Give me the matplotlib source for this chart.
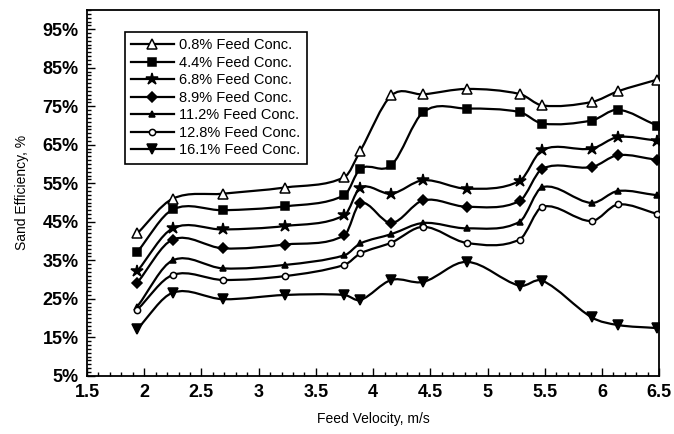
import matplotlib.pyplot as plt
from matplotlib.path import Path
from matplotlib.patches import PathPatch
from matplotlib.lines import Line2D
from matplotlib.ticker import MultipleLocator, FixedLocator, FuncFormatter

plt.rcParams['font.family'] = ['Liberation Sans', 'DejaVu Sans']

# Feed velocity (m/s) at which each efficiency was measured
velocity = [1.94, 2.25, 2.69, 3.23, 3.75, 3.89, 4.16, 4.44, 4.82, 5.28, 5.48, 5.91, 6.14, 6.48]

# Sand efficiency (%) for each feed concentration
conc_0_8 = [42.0, 51.0, 52.3, 53.9, 56.6, 63.5, 77.8, 78.1, 79.5, 78.2, 75.2, 76.1, 78.9, 81.9]
conc_4_4 = [37.2, 48.2, 48.0, 49.0, 51.9, 58.8, 59.7, 73.5, 74.4, 73.5, 70.5, 71.3, 74.1, 70.0]
conc_6_8 = [32.2, 43.3, 43.0, 43.9, 46.7, 53.9, 52.3, 55.8, 53.6, 55.6, 63.7, 64.0, 67.0, 66.1]
conc_8_9 = [29.2, 40.4, 38.1, 39.1, 41.5, 49.9, 44.7, 50.6, 48.9, 50.4, 58.8, 59.2, 62.3, 61.1]
conc_11_2 = [23.0, 35.0, 32.9, 33.8, 36.3, 39.4, 41.8, 44.7, 43.3, 45.0, 54.0, 49.9, 53.0, 51.9]
conc_12_8 = [22.2, 31.2, 29.9, 30.9, 33.8, 36.8, 39.6, 43.7, 39.5, 40.4, 48.9, 45.2, 49.5, 47.1]
conc_16_1 = [17.2, 26.6, 24.9, 26.0, 26.0, 24.7, 29.9, 29.4, 34.6, 28.4, 29.7, 20.2, 18.2, 17.4]

labels = ["0.8% Feed Conc.", "4.4% Feed Conc.", "6.8% Feed Conc.", "8.9% Feed Conc.",
          "11.2% Feed Conc.", "12.8% Feed Conc.", "16.1% Feed Conc."]
series = [conc_0_8, conc_4_4, conc_6_8, conc_8_9, conc_11_2, conc_12_8, conc_16_1]

# marker, size, face colour
styles = [("^", 7, "white"), ("s", 5.5, "black"), ("*", 9, "black"), ("D", 5, "black"),
          ("^", 4.5, "black"), ("o", 4.5, "white"), ("v", 7.5, "black")]


def smooth_path(xs, ys):
    # cubic Hermite through the points, written as Bezier segments
    n = len(xs)
    slopes = []
    for i in range(n):
        a = max(i - 1, 0)
        b = min(i + 1, n - 1)
        slopes.append((ys[b] - ys[a]) / (xs[b] - xs[a]))
    verts = [(xs[0], ys[0])]
    codes = [Path.MOVETO]
    for i in range(n - 1):
        h = (xs[i + 1] - xs[i]) / 3.0
        verts += [(xs[i] + h, ys[i] + slopes[i] * h),
                  (xs[i + 1] - h, ys[i + 1] - slopes[i + 1] * h),
                  (xs[i + 1], ys[i + 1])]
        codes += [Path.CURVE4] * 3
    return Path(verts, codes)


fig = plt.figure(figsize=(6.74, 4.34), dpi=100)
ax = fig.add_axes([0.129, 0.134, 0.849, 0.843])

handles = []
for vals, (mk, ms, fc), lab in zip(series, styles, labels):
    ax.add_patch(PathPatch(smooth_path(velocity, vals), facecolor="none",
                           edgecolor="black", lw=1.6, zorder=2))
    ax.plot(velocity, vals, linestyle="none", marker=mk, markersize=ms,
            markerfacecolor=fc, markeredgecolor="black", markeredgewidth=1.1, zorder=3)
    handles.append(Line2D([], [], color="black", lw=1.6, marker=mk, markersize=ms,
                          markerfacecolor=fc, markeredgecolor="black", markeredgewidth=1.1))

ax.set_xlim(1.5, 6.5)
ax.set_ylim(5, 100)
ax.xaxis.set_major_locator(MultipleLocator(0.5))
ax.xaxis.set_minor_locator(MultipleLocator(0.1))
ax.xaxis.set_major_formatter(FuncFormatter(lambda v, p: f"{v:g}"))
ax.yaxis.set_major_locator(FixedLocator([5, 15, 25, 35, 45, 55, 65, 75, 85, 95]))
ax.yaxis.set_minor_locator(MultipleLocator(1))
ax.yaxis.set_major_formatter(FuncFormatter(lambda v, p: f"{v:.0f}%"))

ax.tick_params(which="both", direction="in", top=False, right=False, width=1)
ax.tick_params(which="major", length=6, labelsize=13, pad=6)
ax.tick_params(which="minor", length=3)
for t in ax.get_xticklabels() + ax.get_yticklabels():
    t.set_fontweight("bold")
for s in ax.spines.values():
    s.set_linewidth(1.3)

ax.set_xlabel("Feed Velocity, m/s", fontsize=10, labelpad=8)
ax.set_ylabel("Sand Efficiency, %", fontsize=10, labelpad=10)

leg = ax.legend(handles, labels, loc="upper left", bbox_to_anchor=(0.066, 0.94),
                borderaxespad=0, fontsize=10.5, handlelength=2.9, handletextpad=0.4,
                labelspacing=0.24, fancybox=False, framealpha=1, edgecolor="black",
                borderpad=0.45)
leg.get_frame().set_linewidth(1.2)

fig.savefig("out.png", dpi=100)
